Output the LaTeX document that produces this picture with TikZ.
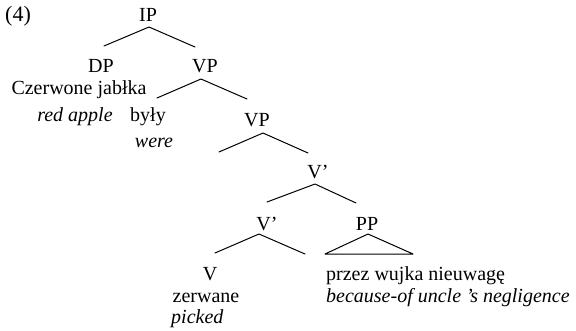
\documentclass[tikz,border=0pt]{standalone}
\usepackage{fontspec}
\setmainfont{Liberation Serif}
\begin{document}
\begin{tikzpicture}[x=1pt,y=-1pt,
  lbl/.style={inner sep=0pt,anchor=base,font=\fontsize{20}{24}\selectfont},
  lbll/.style={lbl,anchor=base west},
  branch/.style={line width=1pt,line cap=round,line join=round}]
\useasboundingbox (0,0) rectangle (576,330);

% example number
\node[lbll,font=\fontsize{22}{26}\selectfont] (num) at (5,21) {(4)};

% category labels
\node[lbl] (ip)  at (148,21)  {IP};
\node[lbl] (dp)  at (101,72)  {DP};
\node[lbl] (vpa) at (205,72)  {VP};
\node[lbl] (vpb) at (257,126) {VP};
\node[lbl] (vba) at (318,178) {V’};
\node[lbl] (vbb) at (267,230) {V’};
\node[lbl] (pp)  at (367,230) {PP};
\node[lbl] (v)   at (210,280) {V};

% words and glosses
\node[lbl] (dpw) at (79,94)  {Czerwone jabłka};
\node[lbl] (dpg) at (75,121) {\itshape red apple};
\node[lbl] (aux) at (148,121) {były};
\node[lbl] (auxg) at (154,147) {\itshape were};
\node[lbl] (vw)  at (206,302) {zerwane};
\node[lbll] (vg) at (171,323) {\itshape picked};
\node[lbll] (ppw) at (326,280) {przez wujka nieuwagę};
\node[lbll] (ppg) at (326,302) {\itshape because-of uncle ’s negligence};

% branch points
\coordinate (ipa) at (149,27);
\coordinate (ipl) at (104,46);
\coordinate (ipr) at (195,47);
\coordinate (vpaa) at (201,79);
\coordinate (vpal) at (157,98);
\coordinate (vpar) at (247,99);
\coordinate (vpba) at (263,133);
\coordinate (vpbl) at (219,152);
\coordinate (vpbr) at (308,153);
\coordinate (vbaa) at (315,184);
\coordinate (vbal) at (267,202);
\coordinate (vbar) at (356,203);
\coordinate (vbba) at (259,234);
\coordinate (vbbl) at (215,253);
\coordinate (vbbr) at (305,254);
\coordinate (ppa) at (368,234);
\coordinate (ppl) at (325,254);
\coordinate (ppr) at (413,254);

% branches
\draw[branch] (ipl) -- (ipa) -- (ipr);
\draw[branch] (vpal) -- (vpaa) -- (vpar);
\draw[branch] (vpbl) -- (vpba) -- (vpbr);
\draw[branch] (vbal) -- (vbaa) -- (vbar);
\draw[branch] (vbbl) -- (vbba) -- (vbbr);
\draw[branch] (ppl) -- (ppa) -- (ppr) -- cycle;
\end{tikzpicture}
\end{document}
